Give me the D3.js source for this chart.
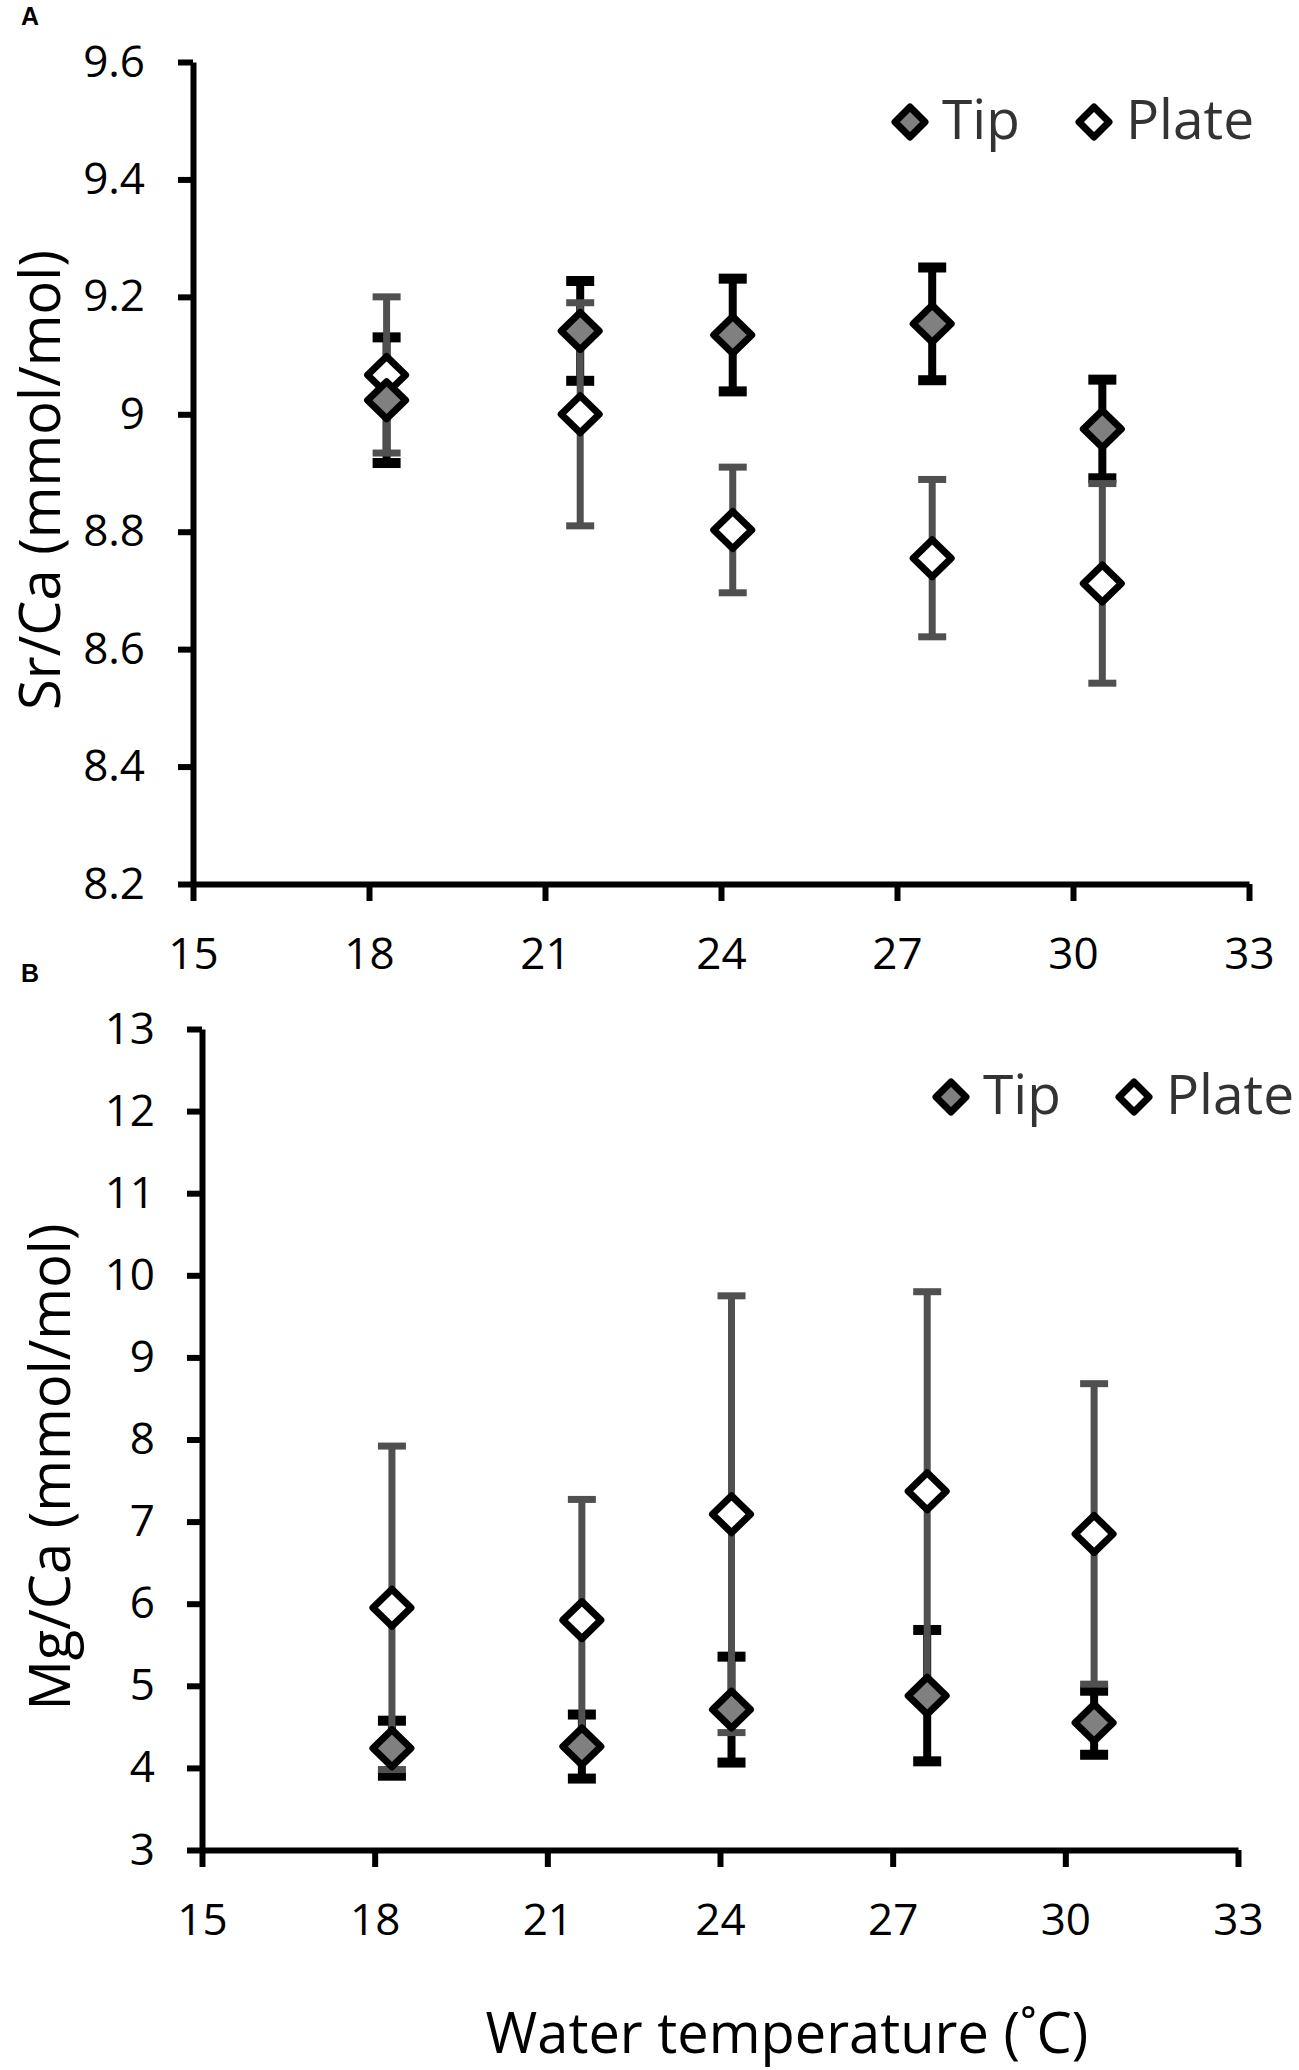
<!DOCTYPE html>
<html>
<head>
<meta charset="utf-8">
<script src="https://cdn.jsdelivr.net/npm/d3@7"></script>
<style>
body { margin: 0; background: #fff; }
text { font-family: "Open Sans", sans-serif; }
</style>
</head>
<body>
<script>
// water temperature of each treatment
var temps = [18.3, 21.6, 24.2, 27.6, 30.5];
var tempTicks = [15, 18, 21, 24, 27, 30, 33];

// panel A, Sr/Ca
var srTip = [9.024, 9.142, 9.135, 9.154, 8.975];
var srTipErr = [0.107, 0.085, 0.096, 0.096, 0.084];
var srPlate = [9.067, 9.0, 8.803, 8.755, 8.712];
var srPlateErr = [0.133, 0.19, 0.107, 0.134, 0.17];
var srTicks = [8.2, 8.4, 8.6, 8.8, 9.0, 9.2, 9.4, 9.6];

// panel B, Mg/Ca
var mgTip = [4.24, 4.26, 4.71, 4.88, 4.55];
var mgTipErr = [0.335, 0.39, 0.645, 0.8, 0.39];
var mgPlate = [5.95, 5.8, 7.09, 7.37, 6.85];
var mgPlateErr = [1.97, 1.47, 2.66, 2.43, 1.83];
var mgTicks = [3, 4, 5, 6, 7, 8, 9, 10, 11, 12, 13];

var svg = d3.select("body").append("svg")
    .attr("width", 1299)
    .attr("height", 2070);

function diamond(hw, hh) {
  return "M0," + (-hh) + "L" + hw + ",0L0," + hh + "L" + (-hw) + ",0Z";
}

function errorBars(g, x, y, vals, errs, color, lw, capW, capH) {
  var rows = vals.map(function (v, i) { return { t: temps[i], v: v, e: errs[i] }; });
  var eb = g.append("g").selectAll("g").data(rows).enter().append("g");
  eb.append("line")
    .attr("x1", function (d) { return x(d.t); })
    .attr("x2", function (d) { return x(d.t); })
    .attr("y1", function (d) { return y(d.v - d.e); })
    .attr("y2", function (d) { return y(d.v + d.e); })
    .style("stroke", color)
    .style("stroke-width", lw);
  [-1, 1].forEach(function (s) {
    eb.append("rect")
      .attr("x", function (d) { return x(d.t) - capW / 2; })
      .attr("y", function (d) { return y(d.v + s * d.e) - capH / 2; })
      .attr("width", capW)
      .attr("height", capH)
      .style("fill", color);
  });
}

function markers(g, x, y, vals, fill) {
  g.append("g").selectAll("path").data(vals).enter().append("path")
    .attr("transform", function (d, i) { return "translate(" + x(temps[i]) + "," + y(d) + ")"; })
    .attr("d", diamond(19, 18.5))
    .style("fill", fill)
    .style("stroke", "#000")
    .style("stroke-width", 7)
    .style("stroke-linejoin", "round");
}

function panel(c) {
  var g = svg.append("g");
  var x = d3.scaleLinear().domain([15, 33]).range([c.left, c.right]);
  var y = d3.scaleLinear().domain(c.yDomain).range([c.bottom, c.top]);

  var yAxis = g.append("g")
    .attr("transform", "translate(" + c.left + ",0)")
    .call(d3.axisLeft(y).tickValues(c.yTicks).tickSize(15).tickSizeOuter(0).tickPadding(c.yPad)
      .tickFormat(d3.format("~g")));
  var xAxis = g.append("g")
    .attr("transform", "translate(0," + c.bottom + ")")
    .call(d3.axisBottom(x).tickValues(tempTicks).tickSize(17).tickSizeOuter(0).tickPadding(37));

  [yAxis, xAxis].forEach(function (a) {
    a.select(".domain").style("stroke", "#000").style("stroke-width", 6);
    a.selectAll(".tick line").style("stroke", "#000").style("stroke-width", 6);
    a.selectAll(".tick text")
      .style("font-family", "'Open Sans', sans-serif")
      .style("font-size", "44px")
      .style("fill", "#000");
  });

  errorBars(g, x, y, c.tip, c.tipErr, "#000", 8, 28, 10);
  errorBars(g, x, y, c.plate, c.plateErr, "#505050", 7, 28, 7);
  markers(g, x, y, c.plate, "#fff");
  markers(g, x, y, c.tip, "#808080");

  g.append("text")
    .attr("transform", "translate(" + c.titleX + "," + c.titleY + ") rotate(-90)")
    .attr("text-anchor", "middle")
    .style("font-size", "56px")
    .style("fill", "#000")
    .text(c.yTitle);

  g.append("text")
    .attr("x", 21)
    .attr("y", c.letterY)
    .style("font-family", "'Liberation Sans', Arial, sans-serif")
    .style("font-weight", "bold")
    .style("font-size", "25px")
    .text(c.letter);

  // legend
  var lg = g.append("g");
  [["Tip", "#808080", c.legTip], ["Plate", "#fff", c.legPlate]].forEach(function (l) {
    lg.append("path")
      .attr("transform", "translate(" + l[2][0] + "," + l[2][1] + ")")
      .attr("d", diamond(15, 15))
      .style("fill", l[1])
      .style("stroke", "#000")
      .style("stroke-width", 7)
      .style("stroke-linejoin", "round");
    lg.append("text")
      .attr("x", l[2][0] + 32)
      .attr("y", l[2][1] + 17)
      .style("font-size", "55px")
      .style("fill", "#333")
      .text(l[0]);
  });
}

panel({
  left: 193, right: 1249, top: 62, bottom: 884,
  yDomain: [8.2, 9.6], yTicks: srTicks, yPad: 33,
  tip: srTip, tipErr: srTipErr, plate: srPlate, plateErr: srPlateErr,
  yTitle: "Sr/Ca (mmol/mol)", titleX: 60, titleY: 480,
  letter: "A", letterY: 25,
  legTip: [910, 122], legPlate: [1094, 122]
});

panel({
  left: 202, right: 1238, top: 1029, bottom: 1850,
  yDomain: [3, 13], yTicks: mgTicks, yPad: 32,
  tip: mgTip, tipErr: mgTipErr, plate: mgPlate, plateErr: mgPlateErr,
  yTitle: "Mg/Ca (mmol/mol)", titleX: 70, titleY: 1467,
  letter: "B", letterY: 982,
  legTip: [951, 1097], legPlate: [1134, 1097]
});

svg.append("text")
  .attr("x", 787)
  .attr("y", 2053)
  .attr("text-anchor", "middle")
  .style("font-size", "56px")
  .style("fill", "#000")
  .text("Water temperature (˚C)");
</script>
</body>
</html>
